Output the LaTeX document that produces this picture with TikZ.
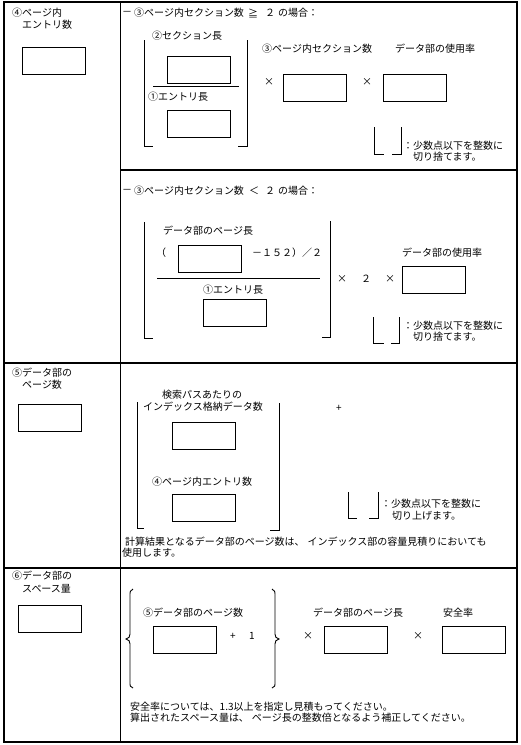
\documentclass[tikz,border=0pt]{standalone}
\usepackage{fontspec}
\newfontfamily\jp{Noto Sans CJK JP}
\tikzset{
  tbl/.style={line width=1.2pt},
  inbox/.style={draw, line width=0.9pt, minimum width=63pt, minimum height=27pt, inner sep=0pt},
  txt/.style={anchor=west, inner sep=0pt, font=\jp\fontsize{10}{11}\selectfont},
  brk/.style={line width=0.9pt},
}
\begin{document}
\begin{tikzpicture}[x=1pt,y=-1pt]
\useasboundingbox (0,0) rectangle (521,745);
% table
\draw[tbl] (4,2) rectangle (517,742);
\draw[tbl] (120.5,2) -- (120.5,742);
\draw[tbl] (120.5,170) -- (517,170);
\draw[tbl] (4,363) -- (517,363);
\draw[tbl] (4,568) -- (517,568);

% ---- row 1 left
\node[txt] (l1a) at (12,13) {④ページ内};
\node[txt] (l1b) at (22,25) {エントリ数};
\node[inbox] (b1) at (54,60.5) {};

% ---- section 1
\node[txt] (h1a) at (122,13) {－};
\node[txt] (h1b) at (134,13) {③ページ内セクション数};
\node[txt] (h1c) at (248,13) {≧};
\node[txt] (h1d) at (265,13) {２};
\node[txt] (h1e) at (278,13) {の場合：};
\node[txt] (s1t1) at (152,36) {②セクション長};
\node[inbox] (bA) at (198.5,70) {};
\draw[brk] (153,86) -- (239,86);
\node[txt] (s1t2) at (148,97) {①エントリ長};
\node[inbox] (bB) at (198.5,123.5) {};
\draw[brk] (144,40) -- (144,146) -- (153,146);
\draw[brk] (247,40) -- (247,146) -- (238,146);
\node[txt] (x1) at (264,82) {×};
\node[txt] (s1t3) at (262,49) {③ページ内セクション数};
\node[inbox] (bC) at (315,87.5) {};
\node[txt] (x2) at (362,82) {×};
\node[txt] (s1t4) at (395,49) {データ部の使用率};
\node[inbox] (bD) at (414.5,87.5) {};
\draw[brk] (374,127) -- (374,154) -- (384,154);
\draw[brk] (401,127) -- (401,154) -- (392,154);
\node[txt] (n1a) at (403,146) {：少数点以下を整数に};
\node[txt] (n1b) at (413,157) {切り捨てます。};

% ---- section 2
\node[txt] (h2a) at (122,191) {－};
\node[txt] (h2b) at (134,191) {③ページ内セクション数};
\node[txt] (h2c) at (249,191) {＜};
\node[txt] (h2d) at (265,191) {２};
\node[txt] (h2e) at (278,191) {の場合：};
\node[txt] (s2t1) at (163,231) {データ部のページ長};
\node[txt] (s2p) at (156,253) {（};
\node[inbox] (bE) at (209.5,259) {};
\node[txt] (s2m) at (252,253) {－１５２）／２};
\draw[brk] (157,278) -- (320,278);
\node[txt] (s2t2) at (203,290) {①エントリ長};
\node[inbox] (bF) at (234.5,312.5) {};
\draw[brk] (144,222) -- (144,338) -- (153,338);
\draw[brk] (330,221) -- (330,337) -- (322,337);
\node[txt] (x3) at (337,279) {×};
\node[txt] (two) at (361,279) {２};
\node[txt] (x4) at (385,279) {×};
\node[txt] (s2t3) at (402,253) {データ部の使用率};
\node[inbox] (bG) at (434,280) {};
\draw[brk] (373,317) -- (373,343) -- (384,343);
\draw[brk] (399,317) -- (399,343) -- (391,343);
\node[txt] (n2a) at (403,326) {：少数点以下を整数に};
\node[txt] (n2b) at (413,337) {切り捨てます。};

% ---- row 2
\node[txt] (l2a) at (12,373) {⑤データ部の};
\node[txt] (l2b) at (22,385) {ページ数};
\node[inbox] (b2) at (50,417.5) {};
\node[txt] (r2t1) at (162,395) {検索パスあたりの};
\node[txt] (r2t2) at (143,407) {インデックス格納データ数};
\node[inbox] (bH) at (203.5,435.5) {};
\node[txt] (r2t3) at (152,482) {④ページ内エントリ数};
\node[inbox] (bI) at (203.5,508) {};
\draw[brk] (137,402) -- (137,528) -- (144,528);
\draw[brk] (279,403) -- (279,530) -- (270,530);
\node[txt] (plus1) at (336,408) {+};
\draw[brk] (348,492) -- (348,518) -- (357,518);
\draw[brk] (378,492) -- (378,518) -- (369,518);
\node[txt] (n3a) at (381,504) {：少数点以下を整数に};
\node[txt] (n3b) at (392,516) {切り上げます。};
\node[txt] (r2t4) at (125,542) {計算結果となるデータ部のページ数は、\hspace{3pt}インデックス部の容量見積りにおいても};
\node[txt] (r2t5) at (122,553) {使用します。};

% ---- row 3
\node[txt] (l3a) at (12,576) {⑥データ部の};
\node[txt] (l3b) at (22,589) {スペース量};
\node[inbox] (b3) at (50,618.5) {};
\draw[brk] (133,589) .. controls (130,590) and (130,592) .. (130,596) -- (130,634)
  .. controls (130,637) and (129,638) .. (126,639)
  .. controls (129,640) and (130,641) .. (130,644) -- (130,682)
  .. controls (130,686) and (130,687) .. (133,688);
\draw[brk] (272,589) .. controls (275,590) and (275,592) .. (275,596) -- (275,634)
  .. controls (275,637) and (276,638) .. (279,639)
  .. controls (276,640) and (275,641) .. (275,644) -- (275,682)
  .. controls (275,686) and (275,687) .. (272,688);
\node[txt] (r3t1) at (143,613) {⑤データ部のページ数};
\node[inbox] (bJ) at (185,639.5) {};
\node[txt] (plus2) at (230,636) {+};
\node[txt] (one) at (249,636) {1};
\node[txt] (x5) at (303,636) {×};
\node[txt] (r3t2) at (313,613) {データ部のページ長};
\node[inbox] (bK) at (356,639.5) {};
\node[txt] (x6) at (413,636) {×};
\node[txt] (r3t3) at (443,613) {安全率};
\node[inbox] (bL) at (473.5,639.5) {};
\node[txt] (r3t4) at (130,707) {安全率については、1.3以上を指定し見積もってください。};
\node[txt] (r3t5) at (130,718) {算出されたスペース量は、\hspace{3pt}ページ長の整数倍となるよう補正してください。};
\end{tikzpicture}
\end{document}
